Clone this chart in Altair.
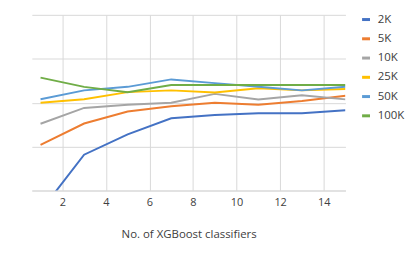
import altair as alt
import pandas as pd

x_vals = [1, 3, 5, 7, 9, 11, 13, 15]
series_names = ["2K", "5K", "10K", "25K", "50K", "100K"]
colors = ["#4472C4", "#ED7D31", "#A5A5A5", "#FFC000", "#5B9BD5", "#70AD47"]
s_2k = [-0.47, 0.815, 1.28, 1.645, 1.72, 1.76, 1.76, 1.83]
s_5k = [1.04, 1.525, 1.80, 1.92, 2.00, 1.955, 2.04, 2.16]
s_10k = [1.52, 1.88, 1.955, 2.00, 2.20, 2.075, 2.17, 2.075]
s_25k = [2.00, 2.08, 2.24, 2.28, 2.23, 2.33, 2.28, 2.31]
s_50k = [2.08, 2.28, 2.36, 2.53, 2.445, 2.36, 2.28, 2.36]
s_100k = [2.57, 2.36, 2.24, 2.40, 2.40, 2.40, 2.40, 2.40]

rows = []
for name, vals in zip(series_names, [s_2k, s_5k, s_10k, s_25k, s_50k, s_100k]):
    for xv, yv in zip(x_vals, vals):
        rows.append({"x": xv, "y": yv, "series": name})
df = pd.DataFrame(rows)

font = "Open Sans"
chart = alt.Chart(df).mark_line(strokeWidth=2, clip=True).encode(
    x=alt.X("x:Q", scale=alt.Scale(domain=[0.6, 15], nice=False, zero=False),
            axis=alt.Axis(values=[2, 4, 6, 8, 10, 12, 14], title="No. of XGBoost classifiers",
                          grid=True, gridColor="#d9d9d9", ticks=False, domainColor="#d9d9d9",
                          labelColor="#404040", labelFontSize=11, labelFont=font, labelPadding=6,
                          titleFont=font, titleFontSize=11.5, titleFontWeight="normal",
                          titleColor="#404040", titlePadding=21)),
    y=alt.Y("y:Q", scale=alt.Scale(domain=[0, 4], nice=False),
            axis=alt.Axis(values=[0, 1, 2, 3, 4], labels=False, ticks=False, domain=False,
                          title=None, grid=True, gridColor="#d9d9d9")),
    color=alt.Color("series:N", scale=alt.Scale(domain=series_names, range=colors),
                    legend=alt.Legend(title=None, orient="none", legendX=331, legendY=-1,
                                      symbolType="stroke", symbolSize=64, symbolStrokeWidth=3,
                                      labelFont=font, labelFontSize=11.5, labelColor="#404040",
                                      rowPadding=6.4, padding=0, labelOffset=6)),
).properties(
    width=316, height=177,
    padding={"left": 24, "top": 5, "right": 2, "bottom": 2},
).configure_view(stroke=None)

chart.save("out.html", embed_options={"renderer": "svg", "actions": False})
